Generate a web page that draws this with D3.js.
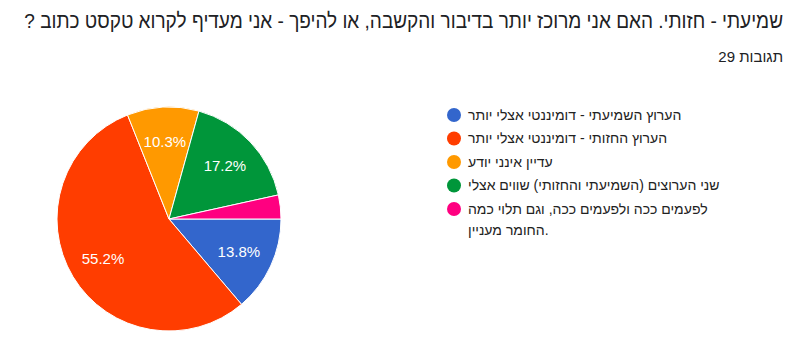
<!DOCTYPE html>
<html>
<head>
<meta charset="utf-8">
<script src="https://cdn.jsdelivr.net/npm/d3@7"></script>
<style>
  body { margin: 0; background: #ffffff; }
  #chart { position: relative; width: 799px; height: 361px; }
  svg text, .lbl { font-family: Arial, "Liberation Sans", sans-serif; }
  .lbl { position: absolute; white-space: nowrap; direction: ltr; }
</style>
</head>
<body>
<div id="chart"></div>
<script>
// data (29 answers)
var labels = [
  "הערוץ השמיעתי - דומיננטי אצלי יותר",
  "הערוץ החזותי - דומיננטי אצלי יותר",
  "עדיין אינני יודע",
  "שני הערוצים (השמיעתי והחזותי) שווים אצלי",
  "לפעמים ככה ולפעמים ככה, וגם תלוי כמה|החומר מעניין."
];
var counts = [4, 16, 3, 5, 1];
var colors = ["#3366cc", "#ff3d00", "#ff9900", "#00963a", "#ff0080"];
var title = "שמיעתי - חזותי. האם אני מרוכז יותר בדיבור והקשבה, או להיפך - אני מעדיף לקרוא טקסט כתוב ?";
var subtitle = "29 תגובות";

var width = 799, height = 361;

var chart = d3.select("#chart");
var svg = chart
  .append("svg")
    .attr("width", width)
    .attr("height", height);

// title, right aligned, rtl embedding so the "?" ends up on the left
var titleText = svg.append("text")
    .attr("text-anchor", "end")
    .style("font-size", "21px")
    .style("fill", "#202124")
    .text("\u202B" + title + "\u202C");
// squeeze it a bit horizontally, the original font is narrower
var tw = titleText.node().getComputedTextLength();
var sx = Math.min(1, 759 / tw);
titleText.attr("transform", "translate(783,28) scale(" + sx + ",1)");

// subtitle as html so the number stays on the left
chart.append("div")
    .attr("class", "lbl")
    .style("right", "16px")
    .style("top", "47px")
    .style("font-size", "15px")
    .style("line-height", "20px")
    .style("color", "#202124")
    .text(subtitle);

// pie
var total = d3.sum(counts);
var radius = 112;
var g = svg.append("g")
    .attr("transform", "translate(169,219)");

var pie = d3.pie()
    .sort(null)
    .startAngle(Math.PI / 2)
    .endAngle(Math.PI / 2 + 2 * Math.PI);

var arc = d3.arc().innerRadius(0).outerRadius(radius);
var labelArc = d3.arc().innerRadius(77).outerRadius(77);

var arcs = pie(counts);

g.selectAll("path")
  .data(arcs)
  .enter()
  .append("path")
    .attr("d", arc)
    .attr("fill", function(d, i) { return colors[i]; })
    .attr("stroke", "#ffffff")
    .attr("stroke-width", 1);

g.selectAll("text")
  .data(arcs.filter(function(d) { return d.data / total > 0.05; }))
  .enter()
  .append("text")
    .attr("transform", function(d) { return "translate(" + labelArc.centroid(d) + ")"; })
    .attr("dy", "0.35em")
    .attr("text-anchor", "middle")
    .style("font-size", "15px")
    .style("fill", "#ffffff")
    .text(function(d) { return (d.data / total * 100).toFixed(1) + "%"; });

// legend: dots in svg, labels as html (bidi behaves there)
var rowH = 23.5;
var lx = 454, ly = 115;

svg.append("g")
  .selectAll("circle")
  .data(labels)
  .enter()
  .append("circle")
    .attr("cx", lx)
    .attr("cy", function(d, i) { return ly + i * rowH; })
    .attr("r", 7)
    .attr("fill", function(d, i) { return colors[i]; });

labels.forEach(function(lab, i) {
  var div = chart.append("div")
    .attr("class", "lbl")
    .style("left", (lx + 14) + "px")
    .style("top", (ly + i * rowH - 10.5) + "px")
    .style("font-size", "14px")
    .style("line-height", "21px")
    .style("color", "#222222");
  lab.split("|").forEach(function(line) {
    div.append("div").text(line);
  });
});
</script>
</body>
</html>
